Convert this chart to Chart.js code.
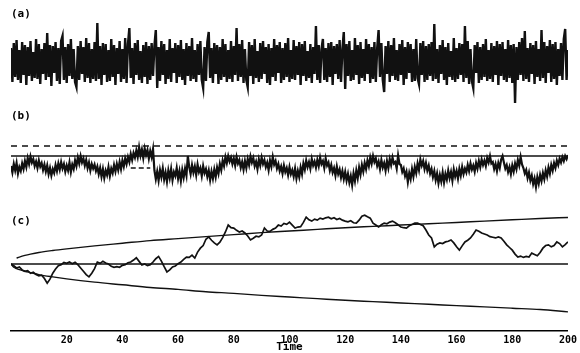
<!DOCTYPE html>
<html>
<head>
<meta charset="utf-8">
<script src="https://cdn.jsdelivr.net/npm/chart.js@4"></script>
<style>
  html, body { margin: 0; background: #fff; }
  #wrap { width: 580px; height: 353px; }
</style>
</head>
<body>
<div id="wrap"><canvas id="chart"></canvas></div>
<script>
'use strict';

// (a) white noise, one value every half time unit
const NOISE_DT = 0.5;
const NOISE = [
  1.4, -2.0, 1.9, -1.5, 2.2, -1.8, 1.2, -2.1, 2.0, -1.3, 1.7, -2.3, 1.5, -1.4, 2.1, -1.9, 1.0, -1.6, 2.3, -1.7,
  1.8, -2.2, 1.3, -1.2, 1.9, -1.8, 2.9, -1.5, 1.7, -2.4, 1.6, -1.1, 2.0, -1.9, 1.4, -2.2, 2.1, 2.6, -1.8, 1.5,
  -2.1, 1.8, -1.4, 2.3, -1.7, 1.3, -2.0, -2.5, 1.6, -1.8, 2.1, -1.2, 1.5, -2.0, 2.4, -1.6, 1.9, -2.1, 1.3, -1.7,
  2.0, -1.9, 3.9, -1.7, 1.6, -2.3, 1.9, -1.3, 1.8, -2.0, 1.2, -1.9, 2.3, -1.5, 1.7, -2.3, 1.4, -1.2, 2.1, -2.0,
  1.3, -1.7, 2.4, -2.1, 1.8, 3.4, -1.6, 1.4, -2.2, 1.9, -1.3, 2.2, -1.8, 1.1, -2.1, 1.7, -1.5, 2.0, -2.2, 1.6,
  -1.8, 1.9, -1.4, 1.6, 3.2, -2.6, 1.5, -1.9, 2.1, -1.3, 1.8, -2.2, 1.2, -1.7, 2.3, -2.0, 1.4, -1.1, 1.9, -2.1,
  1.7, -1.5, 2.2, -1.8, 1.3, -2.3, 1.9, -1.4, 1.6, -1.9, 2.4, -1.7, 1.2, -2.0, 1.8, -1.3, 2.1, -1.8, -2.6, 1.5,
  -1.9, 2.0, 3.0, -1.6, 1.4, -2.1, 1.9, -1.2, 1.7, -2.2, 1.5, -1.8, 2.3, -1.5, 1.8, -2.0, 1.2, -1.7, 2.1, -2.0,
  1.6, -1.3, 3.4, -1.9, 1.8, -1.5, 2.2, -2.1, 1.3, -1.8, -2.5, 2.0, -1.4, 1.7, -2.2, 2.3, -1.6, 1.1, -2.0, 1.9,
  -1.7, 2.1, -1.2, 1.5, -2.1, 1.8, -2.3, 1.4, -1.5, 2.3, -1.9, 1.7, -1.1, 2.0, -2.1, 1.4, -1.8, 1.9, -1.5, 2.4,
  -2.0, 1.2, -1.7, 2.2, -1.8, 1.6, -1.3, 2.0, -2.3, 1.8, -1.4, 2.1, -1.9, 1.1, -1.6, 1.8, -2.1, 1.5, -1.2, 3.6,
  -1.8, 1.7, -2.1, 1.3, 2.3, -1.8, 1.4, -2.0, 1.9, -1.5, 2.0, -2.3, 1.6, -1.2, 1.8, -1.7, 2.2, -2.0, 1.3, 3.0,
  -2.7, 1.8, -1.4, 2.1, -1.9, 1.2, -1.8, 2.4, -1.3, 1.7, -2.2, 2.0, -1.6, 1.3, -1.9, 2.3, -1.2, 1.8, -2.1, 1.5,
  -1.7, 2.0, -2.0, 1.4, 3.2, -1.5, 1.9, -1.8, -3.0, 1.6, -1.2, 2.1, -2.0, 1.7, -1.4, 2.4, -1.8, 1.2, -1.9, 1.8,
  -1.3, 2.2, -2.3, 1.5, -1.7, 2.0, -1.1, 1.8, -2.0, 1.3, -1.9, 2.3, -1.6, -2.2, 1.9, -1.3, 2.1, -2.0, 1.6, -1.8,
  1.8, -1.4, 2.0, -1.9, 3.8, -1.7, 1.3, -2.1, 1.7, -1.2, 2.2, -1.8, 1.5, -2.3, 1.9, -1.5, 1.1, -1.8, 2.4, -2.0,
  1.4, -1.7, 1.9, -1.3, 1.8, -2.0, 3.6, -1.6, 2.1, -2.2, 1.3, -1.9, -2.6, 1.7, -1.1, 2.0, -2.1, 1.5, -1.8, 1.8,
  -1.5, 2.3, -1.9, 1.2, -1.7, 1.9, -2.0, 1.6, -1.3, 2.1, -2.3, 1.8, -1.4, 2.0, -1.8, 1.3, -2.0, 2.2, -1.6, 1.7,
  -2.1, 1.8, -4.1, 1.5, -1.8, 2.0, -1.3, 2.4, -1.9, 3.1, -1.7, 1.4, -2.0, 1.9, -1.2, 1.7, -2.2, 2.1, -1.5, 1.3,
  -1.9, 3.2, -1.6, 2.0, -2.1, 1.6, -1.1, 2.2, -2.0, 1.8, -1.7, 2.0, -2.3, 1.3, -1.4, 1.9, -1.8, 2.3, 3.3, -1.8,
  1.2
];

// (b) cumulative statistic with its reference line and thresholds
const CUSUM_DT = 0.5;
const CUSUM = [
  -2.0, -3.3, -1.6, -2.9, -1.4, -3.5, -2.2, -3.0, -1.5, -2.6, -1.0, -2.2, -0.4, -1.6, -0.1, -1.3, -0.6, -2.0, -1.1, -2.4,
  -0.9, -2.1, -1.4, -2.8, -1.7, -3.1, -1.9, -3.6, -2.4, -3.9, -2.6, -3.4, -1.8, -3.0, -1.5, -2.7, -1.2, -2.5, -1.6, -3.1,
  -1.9, -2.9, -1.3, -3.2, -1.7, -2.6, -0.9, -2.0, -0.3, -1.5, 0.0, -1.3, -0.5, -1.9, -0.8, -2.4, -1.3, -2.9, -1.6, -2.5,
  -1.7, -3.0, -2.1, -3.6, -2.4, -4.1, -2.6, -4.4, -2.9, -3.8, -2.2, -4.0, -2.5, -3.4, -1.8, -3.1, -1.6, -2.8, -1.2, -2.6,
  -0.9, -2.1, -0.5, -1.6, -0.2, -1.2, 0.4, -0.8, 0.6, -0.3, 1.1, -0.2, 1.8, 0.1, 1.3, -0.4, 1.5, 0.2, 1.2, -0.5,
  1.0, -0.2, 1.4, -2.9, -4.6, -3.1, -4.9, -2.8, -4.2, -2.5, -4.7, -3.3, -5.1, -2.9, -4.4, -2.6, -4.8, -3.2, -4.0, -2.4,
  -4.5, -3.0, -5.0, -2.8, -4.3, -2.5, -3.9, 0.0, -2.2, -3.6, -1.8, -3.3, -2.1, -3.8, -1.7, -3.2, -2.4, -4.0, -2.0, -3.4,
  -2.6, -4.1, -2.9, -4.8, -3.1, -4.5, -2.7, -4.2, -2.3, -3.5, -1.6, -2.8, -0.9, -2.0, -0.2, -1.4, 0.0, -1.1, -0.3, -1.6,
  -0.5, -1.9, -0.2, -1.5, -0.8, -2.3, -1.2, -2.7, -1.0, -2.4, -0.6, -1.8, -0.1, -1.3, -0.4, -2.0, -1.1, -2.6, -0.7, -1.9,
  -0.3, -1.6, -0.8, -2.2, -1.3, -2.8, -0.9, -2.1, -0.2, -1.7, -1.0, -2.5, -1.6, -3.0, -2.1, -3.5, -1.9, -3.2, -2.4, -3.8,
  -2.2, -3.6, -2.8, -4.1, -2.5, -4.5, -3.0, -4.2, -2.3, -3.6, -1.5, -2.7, -0.9, -2.2, -1.2, -2.5, -0.6, -1.9, -1.1, -2.3,
  -0.8, -2.0, -0.3, -1.6, -1.0, -2.4, -0.5, -1.9, -1.3, -2.9, -1.8, -3.3, -2.4, -3.9, -2.1, -3.6, -2.7, -4.3, -3.0, -4.6,
  -3.2, -4.9, -3.6, -5.3, -4.0, -5.8, -3.5, -5.0, -2.9, -4.4, -2.3, -3.7, -1.8, -3.1, -1.4, -2.6, -0.9, -2.0, -0.3, -1.5,
  0.0, -1.2, -0.5, -2.0, -1.1, -2.6, -0.8, -2.3, -1.4, -2.9, -1.0, -2.4, -0.6, -1.8, -0.3, -1.5, -1.2, -2.5, 0.1, -1.6,
  -1.8, -3.2, -2.5, -4.0, -3.1, -5.2, -3.4, -4.6, -2.6, -4.1, -2.2, -3.4, -1.5, -2.8, -0.7, -1.9, -1.0, -2.6, -1.4, -2.9,
  -1.9, -3.5, -2.6, -4.2, -3.0, -4.8, -3.5, -5.4, -3.8, -5.1, -3.3, -5.3, -3.6, -4.7, -2.9, -4.4, -3.2, -4.9, -2.7, -4.1,
  -3.0, -4.5, -2.6, -3.9, -2.2, -3.6, -2.5, -3.3, -1.8, -3.0, -1.5, -2.7, -1.9, -3.1, -1.4, -2.5, -1.0, -2.2, -0.7, -1.8,
  -0.9, -2.0, -0.4, -1.3, 0.0, -1.5, -1.2, -2.6, -1.6, -3.0, -1.4, -2.4, -0.7, 0.0, -1.3, -2.5, -1.8, -3.2, -2.2, -3.6,
  -1.9, -3.1, -1.5, -2.6, -0.8, -1.9, -0.2, -1.7, -2.4, -3.5, -2.8, -4.4, -3.3, -4.9, -3.9, -5.6, -4.5, -6.2, -4.2, -5.5,
  -3.8, -5.0, -3.4, -4.6, -2.9, -4.1, -2.3, -3.5, -1.8, -2.9, -1.4, -2.4, -0.9, -1.8, -0.5, -1.3, -0.2, -1.0, 0.0, -0.6,
  0.2
];
const CUSUM_LEVEL = 0;
const CUSUM_LIMIT = 2;
const SIGNAL_T = [43, 50];
const SIGNAL_LEVEL = -2.4;

// (c) random walk and its widening bounds
const WALK_DT = 1;
const WALK = [
  0, -0.5, -1.2, -0.9, -1.8, -2.2, -2.0, -2.8, -2.5, -3.2,
  -3.6, -3.4, -4.4, -5.8, -4.6, -2.8, -1.5, -0.5, -0.2, 0.5,
  0.2, 0.6, 0.1, 0.5, -0.2, -1.2, -2.2, -3.2, -3.9, -2.8,
  -1.4, 0.6, 0.2, 0.8, 0.3, 0.0, -0.7, -1.0, -0.8, -1.0,
  -0.4, -0.2, 0.4, 0.6, 1.2, 1.9, 0.8, -0.3, 0.0, -0.5,
  -0.2, 0.6, 1.6, 2.3, 0.9, -0.8, -2.4, -1.8, -0.9, -0.6,
  0.1, 0.6, 1.4, 2.1, 2.0, 2.7, 1.8, 3.6, 4.8, 5.6,
  7.5, 8.2, 7.2, 6.4, 5.8, 6.6, 8.0, 9.7, 11.8, 11.0,
  10.9, 10.2, 9.7, 10.0, 9.4, 8.5, 7.3, 7.8, 8.4, 8.2,
  8.8, 10.9, 10.0, 9.9, 10.5, 10.9, 11.8, 11.5, 12.3, 12.0,
  12.7, 11.8, 10.9, 11.2, 11.3, 12.6, 14.2, 13.4, 13.0, 13.6,
  13.3, 13.9, 13.6, 14.0, 14.2, 13.7, 14.0, 13.5, 13.8, 13.3,
  13.0, 12.8, 13.1, 12.5, 12.4, 13.3, 14.5, 14.8, 14.3, 13.9,
  12.4, 11.8, 11.2, 11.9, 12.4, 12.2, 12.7, 13.0, 12.5, 11.9,
  11.2, 11.0, 10.9, 11.6, 12.0, 12.4, 12.4, 12.0, 11.6, 10.3,
  8.8, 7.9, 5.2, 6.0, 6.4, 6.2, 6.7, 6.9, 7.3, 6.4,
  5.2, 4.2, 5.5, 6.7, 7.2, 7.9, 9.0, 10.3, 9.9, 9.4,
  9.1, 8.8, 8.3, 8.1, 7.9, 8.2, 7.9, 6.9, 5.8, 5.0,
  4.2, 3.0, 2.1, 2.4, 2.0, 2.3, 2.1, 3.3, 2.9, 2.5,
  3.5, 4.8, 5.6, 5.8, 5.2, 5.6, 6.7, 6.2, 5.2, 5.9,
  6.7
];
const UPPER_T = [2, 3, 5, 7, 10, 15, 20, 30, 40, 50, 60, 70, 80, 90, 100, 110, 120, 130, 140, 150, 160, 170, 180, 190, 200];
const UPPER = [1.8, 2.1, 2.6, 3.0, 3.5, 4.1, 4.6, 5.5, 6.3, 7.1, 7.7, 8.3, 8.9, 9.5, 10.0, 10.5, 11.0, 11.4, 11.8, 12.2, 12.6, 13.0, 13.4, 13.8, 14.1];
const LOWER_T = [0, 1, 2, 3, 5, 7, 10, 15, 20, 30, 40, 50, 60, 70, 80, 90, 100, 110, 120, 130, 140, 150, 160, 170, 180, 190, 200];
const LOWER = [0, -1.0, -1.4, -1.7, -2.2, -2.6, -3.2, -3.9, -4.5, -5.5, -6.3, -7.1, -7.7, -8.4, -8.9, -9.5, -10.0, -10.5, -11.0, -11.4, -11.8, -12.2, -12.6, -13.0, -13.4, -13.8, -14.5];

const PANEL_LABELS = ['(a)', '(b)', '(c)'];
const TIME_TICKS = [20, 40, 60, 80, 100, 120, 140, 160, 180, 200];

const INK = '#111';
const MONO = '"DejaVu Sans Mono", monospace';

function series(values, dt) {
  return values.map((v, i) => ({x: i * dt, y: v}));
}

function pairs(ts, vs) {
  return ts.map((t, i) => ({x: t, y: vs[i]}));
}

function line(data, axis, width, extra) {
  return Object.assign({
    data: data,
    yAxisID: axis,
    borderColor: INK,
    borderWidth: width,
    pointRadius: 0,
    fill: false,
  }, extra || {});
}

// panel captions drawn in the top-left corner of each strip
const labelY = [14, 116, 221];
const panelLabels = {
  id: 'panelLabels',
  afterDraw(chart) {
    const ctx = chart.ctx;
    ctx.save();
    ctx.font = 'bold 11px ' + MONO;
    ctx.fillStyle = '#000';
    ctx.textBaseline = 'middle';
    PANEL_LABELS.forEach((txt, i) => ctx.fillText(txt, 11, labelY[i]));
    ctx.restore();
  }
};

const datasets = [
  line(series(NOISE, NOISE_DT), 'ya', 2.4),

  line(pairs([0, 200], [CUSUM_LEVEL, CUSUM_LEVEL]), 'yb', 1.6),
  line(pairs([0, 200], [CUSUM_LIMIT, CUSUM_LIMIT]), 'yb', 1.5, {borderDash: [6, 5]}),
  line(pairs(SIGNAL_T, [SIGNAL_LEVEL, SIGNAL_LEVEL]), 'yb', 1.5, {borderDash: [5, 3]}),
  line(series(CUSUM, CUSUM_DT), 'yb', 2.2),

  line(pairs([0, 200], [0, 0]), 'yc', 1.6),
  line(pairs(UPPER_T, UPPER), 'yc', 1.4, {cubicInterpolationMode: 'monotone'}),
  line(pairs(LOWER_T, LOWER), 'yc', 1.4, {cubicInterpolationMode: 'monotone'}),
  line(series(WALK, WALK_DT), 'yc', 1.7),
];

new Chart(document.getElementById('chart'), {
  type: 'line',
  data: {datasets: datasets},
  plugins: [panelLabels],
  options: {
    responsive: true,
    maintainAspectRatio: false,
    animation: false,
    events: [],
    layout: {padding: {left: 11, right: 11, top: 0, bottom: 0}},
    plugins: {
      legend: {display: false},
      tooltip: {enabled: false},
    },
    scales: {
      x: {
        type: 'linear',
        min: 0,
        max: 200,
        afterBuildTicks: (scale) => {
          scale.ticks = [0].concat(TIME_TICKS).map(v => ({value: v}));
        },
        afterFit: (scale) => { scale.height = 22; },
        grid: {display: false, drawTicks: false},
        border: {display: true, color: '#000', width: 1.5},
        ticks: {
          padding: 3,
          maxRotation: 0,
          autoSkip: false,
          color: '#000',
          font: {family: MONO, size: 10, weight: 'bold'},
          callback: (v) => (v === 0 ? '' : v),
        },
        title: {
          display: true,
          text: 'Time',
          color: '#000',
          padding: 0,
          font: {family: MONO, size: 11, weight: 'bold', lineHeight: 1},
        },
      },
      // three hidden value axes, each range picked so its strip sits in its own band
      ya: {display: false, min: -26.9, max: 6.2},
      yb: {display: false, min: -35.0, max: 31.2},
      yc: {display: false, min: -20.3, max: 80},
    }
  }
});
</script>
</body>
</html>
